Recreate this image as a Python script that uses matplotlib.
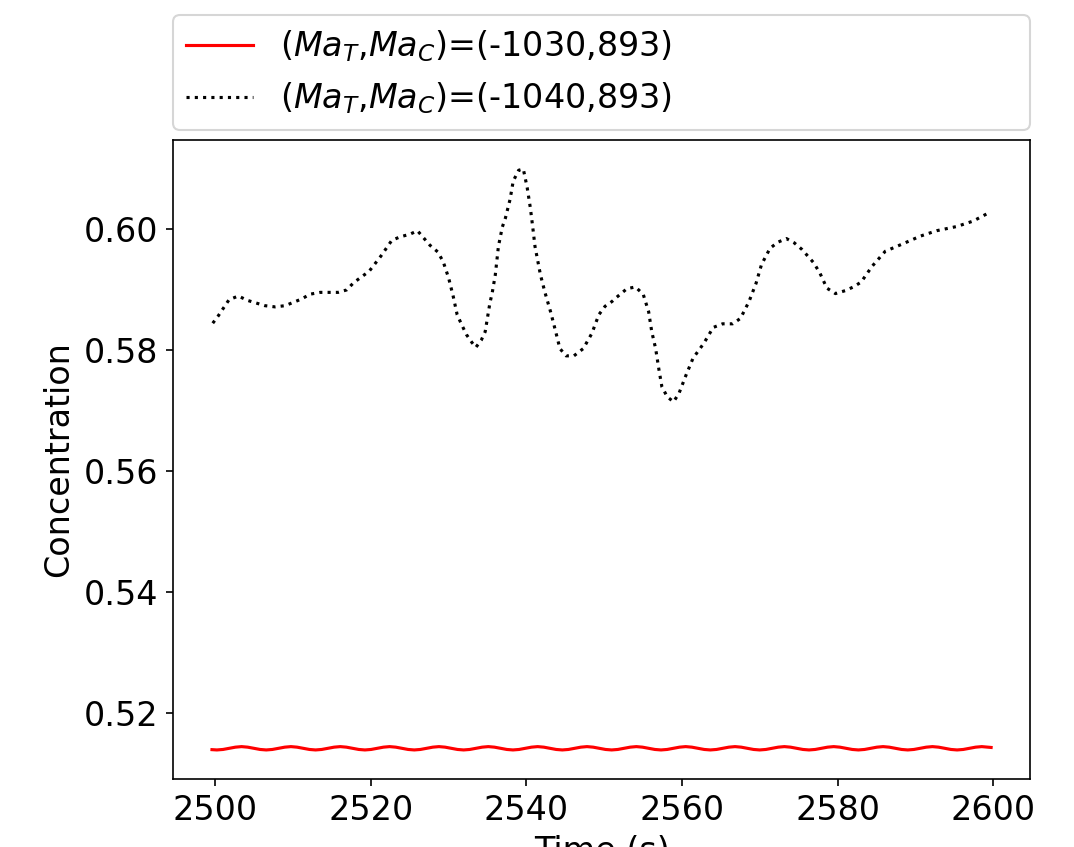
import matplotlib
matplotlib.use('Agg')
import matplotlib.pyplot as plt

# black dotted series, (Ma_T,Ma_C)=(-1040,893)
t_1040 = [2499.7, 2500.4, 2501.8, 2503.0, 2504.1, 2506.4, 2507.7, 2509.0, 2511.1, 2512.2,
          2513.5, 2515.8, 2516.9, 2517.8, 2519.8, 2521.3, 2522.7, 2523.8, 2525.0, 2526.0,
          2526.8, 2527.6, 2528.6, 2529.3, 2530.0, 2530.6, 2531.1, 2531.7, 2532.3, 2533.0,
          2533.5, 2534.2, 2534.7, 2535.3, 2535.6, 2536.0, 2536.4, 2536.9, 2537.3, 2537.9,
          2538.3, 2539.0, 2539.6, 2540.1, 2540.5, 2540.8, 2541.1, 2541.8, 2542.4, 2543.1,
          2543.7, 2544.3, 2545.1, 2546.1, 2547.3, 2548.4, 2549.3, 2550.1, 2551.0, 2551.6,
          2552.9, 2554.0, 2555.0, 2555.7, 2556.1, 2556.6, 2557.0, 2557.4, 2558.1, 2558.9,
          2559.6, 2560.5, 2561.4, 2562.8, 2564.0, 2565.2, 2566.5, 2567.5, 2568.6, 2569.5,
          2570.2, 2571.3, 2572.3, 2573.4, 2574.4, 2575.4, 2576.9, 2577.7, 2578.6, 2579.7,
          2581.0, 2582.0, 2583.0, 2584.4, 2586.1, 2588.3, 2590.6, 2592.7, 2595.3, 2597.4,
          2599.6]
c_1040 = [0.5844, 0.5856, 0.5883, 0.5889, 0.5882, 0.5873, 0.5871, 0.5873, 0.5884, 0.5892,
          0.5895, 0.5895, 0.5899, 0.5911, 0.5930, 0.5955, 0.5981, 0.5987, 0.5991, 0.5997,
          0.5985, 0.5973, 0.5962, 0.5946, 0.5919, 0.5888, 0.5858, 0.5841, 0.5825, 0.5812,
          0.5804, 0.5816, 0.5830, 0.5877, 0.5894, 0.5924, 0.5971, 0.6003, 0.6018, 0.6049,
          0.6079, 0.6097, 0.6099, 0.6068, 0.6035, 0.6004, 0.5971, 0.5924, 0.5894, 0.5863,
          0.5833, 0.5802, 0.5790, 0.5790, 0.5802, 0.5827, 0.5858, 0.5872, 0.5880, 0.5887,
          0.5901, 0.5904, 0.5892, 0.5863, 0.5830, 0.5802, 0.5769, 0.5739, 0.5722, 0.5714,
          0.5728, 0.5758, 0.5786, 0.5811, 0.5837, 0.5843, 0.5843, 0.5852, 0.5880, 0.5910,
          0.5941, 0.5968, 0.5978, 0.5984, 0.5977, 0.5966, 0.5944, 0.5927, 0.5902, 0.5893,
          0.5898, 0.5904, 0.5912, 0.5938, 0.5963, 0.5975, 0.5988, 0.5997, 0.6004, 0.6013,
          0.6028]

# red solid series, (Ma_T,Ma_C)=(-1030,893), small ripple
t_1030 = [2499.60,
          2500.23, 2501.02, 2501.82, 2502.61, 2503.40, 2504.19, 2504.99, 2505.78,
          2506.57, 2507.36, 2508.16, 2508.95, 2509.74, 2510.53, 2511.33, 2512.12,
          2512.91, 2513.70, 2514.50, 2515.29, 2516.08, 2516.87, 2517.67, 2518.46,
          2519.25, 2520.04, 2520.84, 2521.63, 2522.42, 2523.21, 2524.01, 2524.80,
          2525.59, 2526.38, 2527.18, 2527.97, 2528.76, 2529.55, 2530.35, 2531.14,
          2531.93, 2532.72, 2533.52, 2534.31, 2535.10, 2535.89, 2536.69, 2537.48,
          2538.27, 2539.06, 2539.86, 2540.65, 2541.44, 2542.23, 2543.03, 2543.82,
          2544.61, 2545.40, 2546.20, 2546.99, 2547.78, 2548.57, 2549.37, 2550.16,
          2550.95, 2551.74, 2552.54, 2553.33, 2554.12, 2554.91, 2555.71, 2556.50,
          2557.29, 2558.08, 2558.88, 2559.67, 2560.46, 2561.25, 2562.05, 2562.84,
          2563.63, 2564.42, 2565.22, 2566.01, 2566.80, 2567.59, 2568.39, 2569.18,
          2569.97, 2570.76, 2571.56, 2572.35, 2573.14, 2573.93, 2574.73, 2575.52,
          2576.31, 2577.10, 2577.90, 2578.69, 2579.48, 2580.27, 2581.07, 2581.86,
          2582.65, 2583.44, 2584.24, 2585.03, 2585.82, 2586.61, 2587.41, 2588.20,
          2588.99, 2589.78, 2590.58, 2591.37, 2592.16, 2592.95, 2593.75, 2594.54,
          2595.33, 2596.12, 2596.92, 2597.71, 2598.50, 2599.29,
          2599.70]
c_1030 = [0.51386,
          0.51381, 0.51389, 0.51408, 0.51427, 0.51436, 0.51427, 0.51408, 0.51389,
          0.51381, 0.51389, 0.51408, 0.51427, 0.51436, 0.51427, 0.51408, 0.51389,
          0.51381, 0.51389, 0.51408, 0.51427, 0.51436, 0.51427, 0.51408, 0.51389,
          0.51381, 0.51389, 0.51408, 0.51427, 0.51436, 0.51427, 0.51408, 0.51389,
          0.51381, 0.51389, 0.51408, 0.51427, 0.51436, 0.51427, 0.51408, 0.51389,
          0.51381, 0.51389, 0.51408, 0.51427, 0.51436, 0.51427, 0.51408, 0.51389,
          0.51381, 0.51389, 0.51408, 0.51427, 0.51436, 0.51427, 0.51408, 0.51389,
          0.51381, 0.51389, 0.51408, 0.51427, 0.51436, 0.51427, 0.51408, 0.51389,
          0.51381, 0.51389, 0.51408, 0.51427, 0.51436, 0.51427, 0.51408, 0.51389,
          0.51381, 0.51389, 0.51408, 0.51427, 0.51436, 0.51427, 0.51408, 0.51389,
          0.51381, 0.51389, 0.51408, 0.51427, 0.51436, 0.51427, 0.51408, 0.51389,
          0.51381, 0.51389, 0.51408, 0.51427, 0.51436, 0.51427, 0.51408, 0.51389,
          0.51381, 0.51389, 0.51408, 0.51427, 0.51436, 0.51427, 0.51408, 0.51389,
          0.51381, 0.51389, 0.51408, 0.51427, 0.51436, 0.51427, 0.51408, 0.51389,
          0.51381, 0.51389, 0.51408, 0.51427, 0.51436, 0.51427, 0.51408, 0.51389,
          0.51381, 0.51389, 0.51408, 0.51427, 0.51436, 0.51427,
          0.51422]

plt.rcParams['font.size'] = 16

fig = plt.figure(figsize=(7.16, 5.6467), dpi=150)
ax = fig.add_axes([0.1611, 0.0803, 0.798, 0.7544])

ax.plot(t_1030, c_1030, color='red', linestyle='-', label='($Ma_T$,$Ma_C$)=(-1030,893)')
ax.plot(t_1040, c_1040, color='black', linestyle=':', label='($Ma_T$,$Ma_C$)=(-1040,893)')

ax.set_xlabel('Time (s)')
ax.set_ylabel('Concentration')
ax.set_yticks([0.52, 0.54, 0.56, 0.58, 0.60])

ax.legend(bbox_to_anchor=(0, 1.016, 1, 0.2), loc='lower left', mode='expand', borderaxespad=0)

fig.savefig('out.png', dpi=150)
